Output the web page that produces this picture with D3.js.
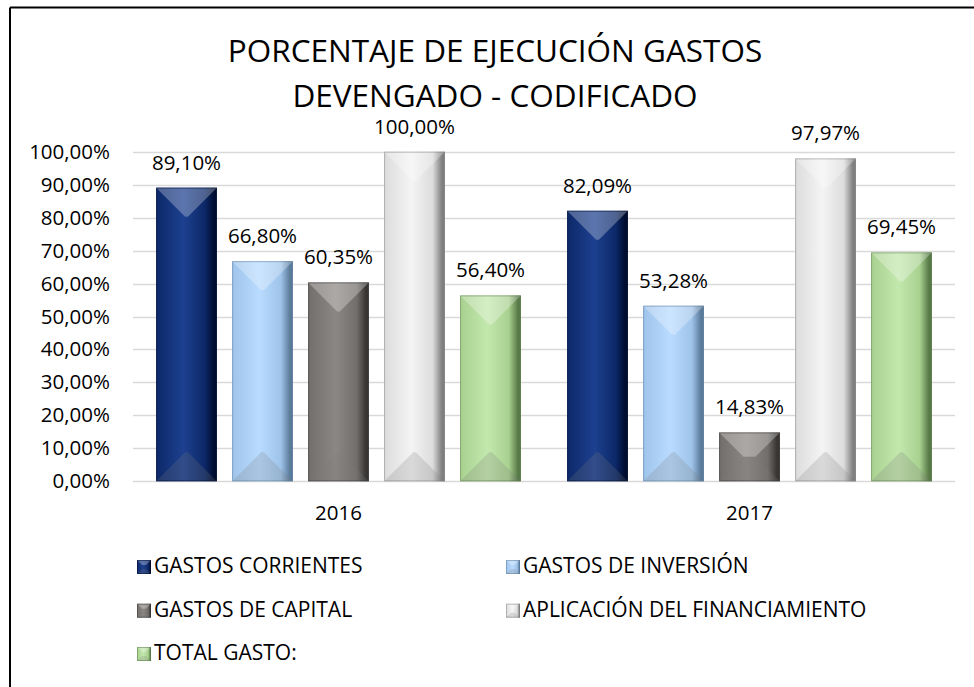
<!DOCTYPE html>
<html>
<head>
<meta charset="utf-8">
<script src="https://cdn.jsdelivr.net/npm/d3@7"></script>
<style>
  body { margin: 0; background: #fff; }
  text { font-family: "Open Sans", "Noto Sans", sans-serif; fill: #000; }
</style>
</head>
<body>
<div id="chart"></div>
<script>
// data
var years = ["2016", "2017"];
var series = ["GASTOS CORRIENTES", "GASTOS DE INVERSIÓN", "GASTOS DE CAPITAL", "APLICACIÓN DEL FINANCIAMIENTO", "TOTAL GASTO:"];
var vals2016 = [0.8910, 0.6680, 0.6035, 1.0000, 0.5640];
var vals2017 = [0.8209, 0.5328, 0.1483, 0.9797, 0.6945];
var yTicks = [0, 0.1, 0.2, 0.3, 0.4, 0.5, 0.6, 0.7, 0.8, 0.9, 1.0];
var titleLines = ["PORCENTAJE DE EJECUCIÓN GASTOS", "DEVENGADO - CODIFICADO"];

// light / base / dark shade per series (bevel look)
var shades = [
  ["#1d408f", "#0c2868", "#000d30"],
  ["#b9dbff", "#9fc4ea", "#5b7b9b"],
  ["#8b8784", "#726e6b", "#383634"],
  ["#f4f4f4", "#dcdcdc", "#808080"],
  ["#c3e8ae", "#a8d18f", "#587a48"]
];

var W = 974, H = 687;
var svg = d3.select("#chart").append("svg")
            .attr("width", W)
            .attr("height", H);

var defs = svg.append("defs");
shades.forEach(function(s, i) {
  var g = defs.append("linearGradient").attr("id", "side" + i)
              .attr("x1", 0).attr("x2", 1).attr("y1", 0).attr("y2", 0);
  g.append("stop").attr("offset", "0").attr("stop-color", s[1]);
  g.append("stop").attr("offset", "0.45").attr("stop-color", s[0]);
  g.append("stop").attr("offset", "0.8").attr("stop-color", s[1]);
  g.append("stop").attr("offset", "0.95").attr("stop-color", s[2]);
  g.append("stop").attr("offset", "1").attr("stop-color", s[2]);
});

// frame (only top and left are visible)
svg.append("line").attr("x1", 10).attr("y1", 7.5).attr("x2", W).attr("y2", 7.5)
   .attr("stroke", "#000").attr("stroke-width", 2);
svg.append("line").attr("x1", 10).attr("y1", 7.5).attr("x2", 10).attr("y2", H)
   .attr("stroke", "#000").attr("stroke-width", 2);

// title
svg.selectAll("text.title").data(titleLines).enter()
   .append("text").attr("class", "title")
   .attr("x", 495)
   .attr("y", function(d, i) { return 61.5 + i * 45.5; })
   .attr("text-anchor", "middle")
   .attr("font-size", "31.5px")
   .text(function(d) { return d; });

var x0 = d3.scaleBand().domain(years).range([133, 955]);
var x1 = d3.scaleBand().domain(d3.range(series.length))
           .range([0, x0.bandwidth()])
           .paddingInner(0.2).paddingOuter(0.304);
var y = d3.scaleLinear().domain([0, 1]).range([481.3, 151.7]);

var loc = d3.formatLocale({decimal: ",", thousands: ".", grouping: [3], currency: ["", ""]});
var pct = loc.format(".2%");

// gridlines
svg.append("g").selectAll("line").data(yTicks).enter()
   .append("line")
   .attr("x1", 133).attr("x2", 955)
   .attr("y1", function(d) { return Math.round(y(d)) + 0.5; })
   .attr("y2", function(d) { return Math.round(y(d)) + 0.5; })
   .attr("stroke", "#d9d9d9").attr("stroke-width", 1.5);

svg.append("g").selectAll("text").data(yTicks).enter()
   .append("text")
   .attr("x", 110)
   .attr("y", function(d) { return y(d) + 7; })
   .attr("text-anchor", "end")
   .attr("font-size", "20.5px")
   .text(function(d) { return pct(d); });

// category labels
svg.append("g").selectAll("text").data(years).enter()
   .append("text")
   .attr("x", function(d) { return x0(d) + x0.bandwidth() / 2; })
   .attr("y", 519.5)
   .attr("text-anchor", "middle")
   .attr("font-size", "20.5px")
   .text(function(d) { return d; });

// bevel bar: side gradient, light top facet, shaded bottom facet
function bevel(g, x, top, w, h, i, dMax) {
  var d = Math.min(dMax, h / 2, w / 2);
  var bot = top + h;
  g.append("rect").attr("x", x).attr("y", top).attr("width", w).attr("height", h)
   .attr("fill", "url(#side" + i + ")");
  g.append("path")
   .attr("d", "M" + x + "," + top + "L" + (x + w) + "," + top +
              "L" + (x + w - d) + "," + (top + d) + "L" + (x + d) + "," + (top + d) + "Z")
   .attr("fill", "#fff").attr("fill-opacity", 0.28);
  g.append("path")
   .attr("d", "M" + x + "," + bot + "L" + (x + w) + "," + bot +
              "L" + (x + w - d) + "," + (bot - d) + "L" + (x + d) + "," + (bot - d) + "Z")
   .attr("fill", "#7a7a7a").attr("fill-opacity", 0.22);
  g.append("rect").attr("x", x + 0.5).attr("y", top + 0.5).attr("width", w - 1).attr("height", h - 1)
   .attr("fill", "none").attr("stroke", shades[i][2]).attr("stroke-opacity", 0.5);
}

var tableData = [vals2016, vals2017];
years.forEach(function(yr, k) {
  var grp = svg.append("g").attr("transform", "translate(" + x0(yr) + ",0)");
  tableData[k].forEach(function(v, i) {
    bevel(grp, x1(i), y(v), x1.bandwidth(), y(0) - y(v), i, 29);
  });
  grp.selectAll("text").data(tableData[k]).enter()
     .append("text")
     .attr("x", function(d, i) { return x1(i) + x1.bandwidth() / 2; })
     .attr("y", function(d) { return y(d) - 18; })
     .attr("text-anchor", "middle")
     .attr("font-size", "20.5px")
     .text(function(d) { return pct(d); });
});

// legend, two columns
var legX = [137, 506];
var legY = [573, 616.7, 660];
series.forEach(function(s, i) {
  var lx = legX[i % 2], ly = legY[Math.floor(i / 2)];
  var lg = svg.append("g");
  bevel(lg, lx, ly - 13, 14, 14, i, 5);
  lg.append("text").attr("x", lx + 17).attr("y", ly)
    .attr("font-size", "21px")
    .text(s);
});
</script>
</body>
</html>
